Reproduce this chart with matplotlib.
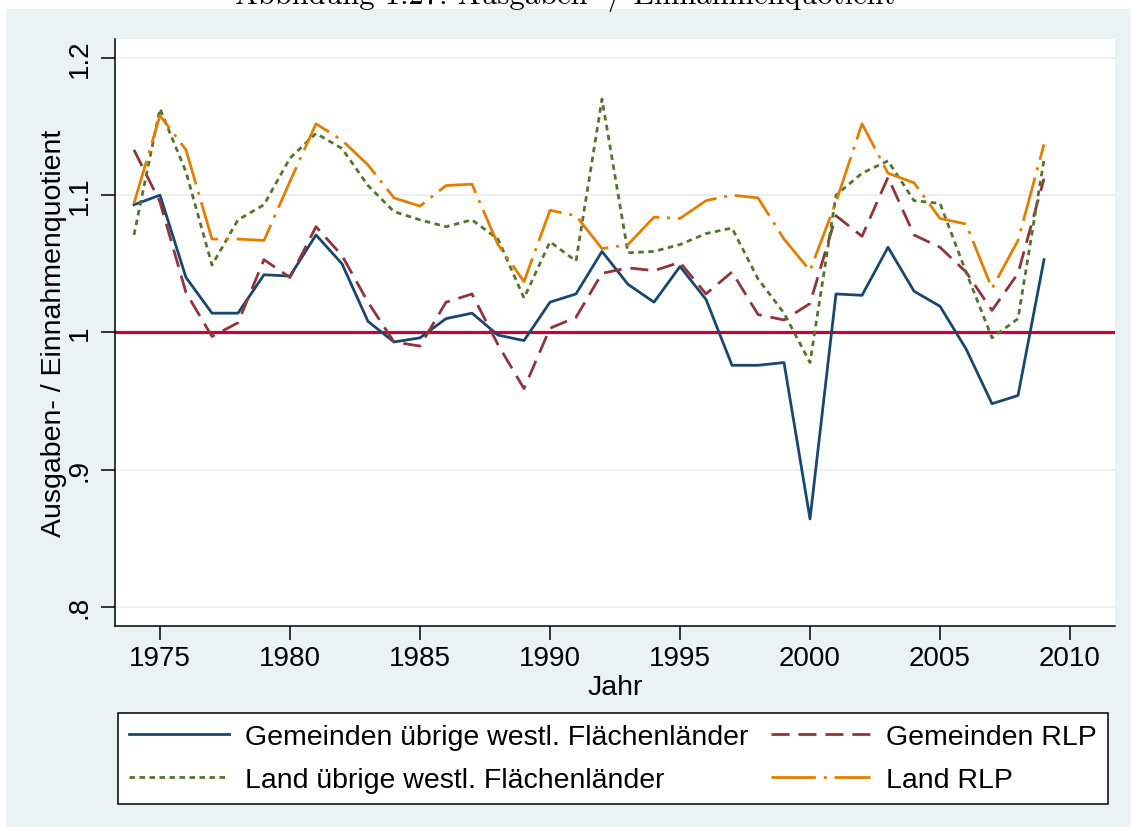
import numpy as np
import matplotlib
matplotlib.use("Agg")
import matplotlib.pyplot as plt
from matplotlib.patches import Rectangle

# Jahre 1974 - 2009
years = list(range(1974, 2010))

gemeinden_uebrige = [1.093, 1.100, 1.040, 1.014, 1.014, 1.042, 1.041, 1.071, 1.050, 1.008,
                     0.993, 0.996, 1.010, 1.014, 0.998, 0.994, 1.022, 1.028, 1.059, 1.035,
                     1.022, 1.048, 1.024, 0.976, 0.976, 0.978, 0.864, 1.028, 1.027, 1.062,
                     1.030, 1.019, 0.988, 0.948, 0.954, 1.053]

gemeinden_rlp = [1.133, 1.095, 1.029, 0.997, 1.007, 1.053, 1.040, 1.077, 1.056, 1.022,
                 0.993, 0.990, 1.022, 1.028, 0.991, 0.959, 1.003, 1.011, 1.043, 1.047,
                 1.045, 1.051, 1.028, 1.044, 1.013, 1.009, 1.021, 1.085, 1.070, 1.113,
                 1.071, 1.062, 1.044, 1.016, 1.043, 1.112]

land_uebrige = [1.071, 1.163, 1.117, 1.049, 1.082, 1.093, 1.127, 1.145, 1.134, 1.107,
                1.088, 1.082, 1.077, 1.082, 1.068, 1.025, 1.066, 1.052, 1.170, 1.058,
                1.059, 1.064, 1.072, 1.076, 1.039, 1.014, 0.978, 1.100, 1.116, 1.125,
                1.096, 1.094, 1.044, 0.996, 1.010, 1.126]

land_rlp = [1.094, 1.158, 1.133, 1.068, 1.068, 1.067, 1.110, 1.152, 1.140, 1.122,
            1.098, 1.092, 1.107, 1.108, 1.064, 1.037, 1.089, 1.085, 1.061, 1.064,
            1.084, 1.083, 1.096, 1.100, 1.098, 1.068, 1.045, 1.095, 1.152, 1.116,
            1.109, 1.083, 1.079, 1.032, 1.067, 1.137]

labels = ["Gemeinden übrige westl. Flächenländer", "Gemeinden RLP",
          "Land übrige westl. Flächenländer", "Land RLP"]

yticks = [0.8, 0.9, 1.0, 1.1, 1.2]
ytick_labels = [".8", ".9", "1", "1.1", "1.2"]
xticks = [1975, 1980, 1985, 1990, 1995, 2000, 2005, 2010]

plt.rcParams['font.family'] = ['Liberation Sans', 'DejaVu Sans']

W, H = 1131, 828
fig = plt.figure(figsize=(W / 100, H / 100), dpi=100)
fig.patch.set_facecolor("white")

# Stata-like grey background
bg = "#eaf2f3"
fig.add_artist(Rectangle((6 / W, 0), 1 - 6 / W, 1 - 10 / H, transform=fig.transFigure,
                         facecolor=bg, edgecolor="none", zorder=-10))

# caption at top (cut off in the original)
fig.text(0.5, 1 - 4 / H, "Abbildung 1.27: Ausgaben- / Einnahmenquotient",
         family="cmr10", fontsize=22, ha="center", va="baseline")

ax = fig.add_axes([115 / W, 1 - 627 / H, 1000 / W, 587 / H])
ax.set_facecolor("white")

lw = 2.0
ax.axhline(1.0, color="#cc0033", lw=2.3, zorder=1)
l1, = ax.plot(years, gemeinden_uebrige, color="#1a476f", lw=lw, zorder=3)
l2, = ax.plot(years, gemeinden_rlp, color="#90353b", lw=lw, dashes=(6.5, 3.2), zorder=3)
l3, = ax.plot(years, land_uebrige, color="#55752f", lw=lw, dashes=(2.0, 1.6), zorder=3)
l4, = ax.plot(years, land_rlp, color="#e37e00", lw=lw, dashes=(16, 2.8, 1.1, 2.8), zorder=3)

ax.set_xlim(1973.27, 2011.73)
ax.set_ylim(0.786, 1.2138)
ax.set_xticks(xticks)
ax.set_yticks(yticks)
ax.set_yticklabels(ytick_labels, rotation=90, va="center")
ax.tick_params(axis="both", labelsize=20, length=10, width=1.1, color="black")
ax.tick_params(axis="y", pad=6)
ax.tick_params(axis="x", pad=4)
ax.grid(axis="y", color=bg, lw=1.5, zorder=0)
ax.set_axisbelow(True)

for s in ["top", "right"]:
    ax.spines[s].set_visible(False)
for s in ["left", "bottom"]:
    ax.spines[s].set_linewidth(1.1)

ax.set_xlabel("Jahr", fontsize=20.5, labelpad=2)
ax.set_ylabel("Ausgaben- / Einnahmenquotient", fontsize=20.5, labelpad=0)

leg = fig.legend([l1, l3, l2, l4], [labels[0], labels[2], labels[1], labels[3]],
                 loc="center", ncol=2, mode="expand", borderaxespad=0,
                 bbox_to_anchor=(118 / W, 1 - 807 / H, (1108 - 118) / W, 95 / H),
                 fontsize=20.5, handlelength=3.5, handletextpad=0.55,
                 labelspacing=0.6, borderpad=0.4, columnspacing=0.8,
                 fancybox=False, framealpha=1, edgecolor="black")
leg.get_frame().set_linewidth(1.1)

fig.savefig("out.png", dpi=100)
